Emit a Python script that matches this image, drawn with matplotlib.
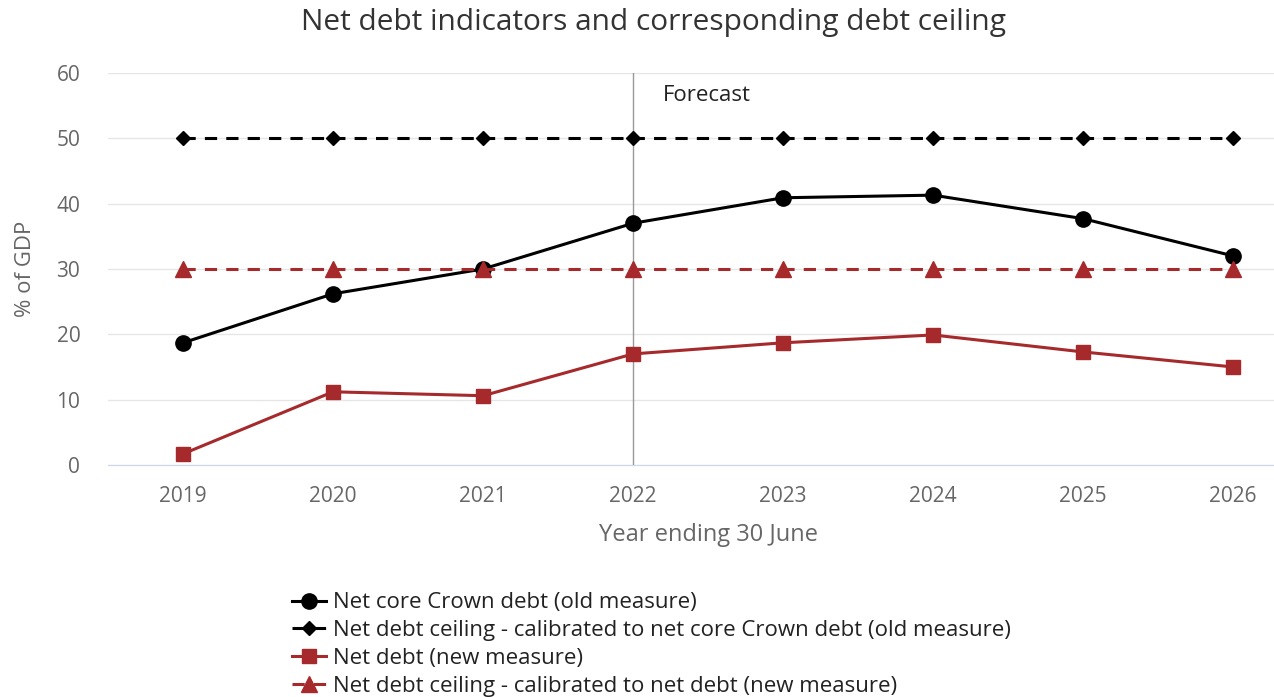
import matplotlib
matplotlib.use("Agg")
import matplotlib.pyplot as plt

years = [2019, 2020, 2021, 2022, 2023, 2024, 2025, 2026]
net_core_crown_debt = [18.7, 26.2, 30.0, 37.0, 40.9, 41.3, 37.7, 32.0]
ceiling_old = [50, 50, 50, 50, 50, 50, 50, 50]
net_debt_new = [1.7, 11.2, 10.6, 17.0, 18.7, 19.9, 17.3, 15.0]
ceiling_new = [30, 30, 30, 30, 30, 30, 30, 30]
yticks = [0, 10, 20, 30, 40, 50, 60]
forecast_year = 2022

plt.rcParams['font.family'] = ['Open Sans', 'DejaVu Sans']
RED = '#a6292b'
GRAY = '#666666'

fig = plt.figure(figsize=(12.74, 6.97), dpi=100)
ax = fig.add_axes([0.0848, 0.3329, 0.942, 0.5624])

ax.plot(years, net_core_crown_debt, color='black', lw=2.2, marker='o', ms=11,
        label='Net core Crown debt (old measure)', zorder=4)
ax.plot(years, ceiling_old, color='black', lw=2.2, ls=(0, (4, 3)), marker='D', ms=7.5,
        label='Net debt ceiling - calibrated to net core Crown debt (old measure)', zorder=4)
ax.plot(years, net_debt_new, color=RED, lw=2.2, marker='s', ms=10.5,
        label='Net debt (new measure)', zorder=4)
ax.plot(years, ceiling_new, color=RED, lw=2.2, ls=(0, (4, 3)), marker='^', ms=11,
        label='Net debt ceiling - calibrated to net debt (new measure)', zorder=4)

ax.axvline(forecast_year, color='#999999', lw=1, zorder=2)
ax.text(forecast_year + 0.2, 56.6, 'Forecast', fontsize=16, color='#222222', va='center', ha='left')

ax.set_xlim(2018.5, 2026.5)
ax.set_ylim(0, 60)
ax.set_yticks(yticks)
ax.set_xticks(years)
ax.grid(axis='y', color='#e6e6e6', lw=1)
ax.set_axisbelow(True)
for s in ['top', 'right', 'left']:
    ax.spines[s].set_visible(False)
ax.spines['bottom'].set_color('#ccd6eb')
ax.tick_params(axis='both', length=0, labelsize=15, colors=GRAY)
ax.tick_params(axis='x', pad=15)
ax.tick_params(axis='y', pad=20)
ax.set_xlabel('Year ending 30 June', fontsize=17, color=GRAY, labelpad=12)
ax.set_ylabel('% of GDP', fontsize=16, color=GRAY, labelpad=15)

fig.suptitle('Net debt indicators and corresponding debt ceiling', fontsize=21.5,
             color='#333333', x=0.513, y=0.988)

fig.legend(loc='upper left', bbox_to_anchor=(0.2225, 0.163), frameon=False, fontsize=16,
           handlelength=1.5, handletextpad=0.35, labelspacing=0.31, borderaxespad=0,
           labelcolor='#222222')

fig.savefig('out.png', dpi=100)
